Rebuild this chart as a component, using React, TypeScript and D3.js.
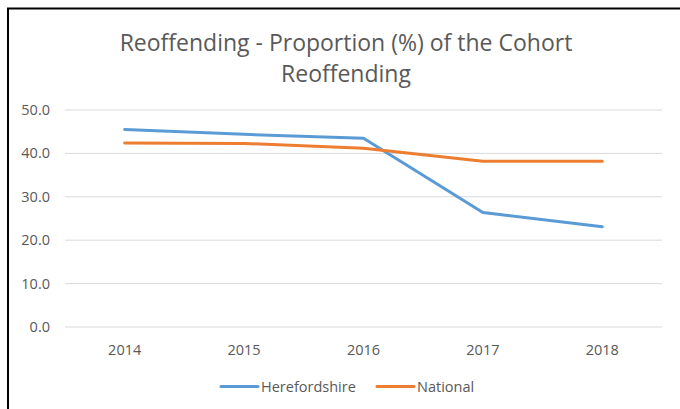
import React from "react";
import * as d3 from "d3";

const years = ["2014", "2015", "2016", "2017", "2018"];
const herefordshire = [45.5, 44.4, 43.5, 26.4, 23.1];
const national = [42.4, 42.3, 41.2, 38.2, 38.2];
const yTicks = [0, 10, 20, 30, 40, 50];
const titleLines = ["Reoffending - Proportion (%) of the Cohort", "Reoffending"];

const W = 680;
const H = 409;
const FONT = "'Open Sans', 'Noto Sans', sans-serif";
const TEXT = "#595959";

export default function App() {
  const x = d3.scaleBand<string>().domain(years).range([65, 662]);
  const y = d3.scaleLinear().domain([0, 50]).range([327, 110]);
  const line = d3
    .line<number>()
    .x((_, i) => (x(years[i]) as number) + x.bandwidth() / 2)
    .y((d) => y(d));

  const series = [
    { name: "Herefordshire", values: herefordshire, color: "#5B9BD5" },
    { name: "National", values: national, color: "#ED7D31" },
  ];

  return (
    <svg
      width={W}
      height={H}
      style={{ position: "absolute", left: 0, top: 0, background: "#fff" }}
      fontFamily={FONT}
    >
      <rect x={0} y={0} width={W} height={H} fill="#fff" />
      <line x1={7} y1={8.5} x2={W} y2={8.5} stroke="#000" strokeWidth={2} />
      <line x1={8} y1={8} x2={8} y2={H} stroke="#000" strokeWidth={2} />
      {titleLines.map((t, i) => (
        <text
          key={i}
          x={346}
          y={51 + i * 30.5}
          textAnchor="middle"
          fontSize={23}
          fill={TEXT}
        >
          {t}
        </text>
      ))}
      {yTicks.map((t) => (
        <g key={t}>
          <line x1={65} x2={662} y1={y(t)} y2={y(t)} stroke="#D9D9D9" strokeWidth={1} />
          <text x={50} y={y(t)} dy="0.35em" textAnchor="end" fontSize={14.5} fill={TEXT}>
            {t.toFixed(1)}
          </text>
        </g>
      ))}
      {years.map((yr) => (
        <text
          key={yr}
          x={(x(yr) as number) + x.bandwidth() / 2}
          y={355}
          textAnchor="middle"
          fontSize={14.5}
          fill={TEXT}
        >
          {yr}
        </text>
      ))}
      {series.map((s) => (
        <path
          key={s.name}
          d={line(s.values) || ""}
          fill="none"
          stroke={s.color}
          strokeWidth={3}
          strokeLinecap="round"
          strokeLinejoin="round"
        />
      ))}
      {series.map((s, i) => {
        const lx = i === 0 ? 221 : 377;
        return (
          <g key={s.name}>
            <line x1={lx} x2={lx + 37} y1={386.5} y2={386.5} stroke={s.color} strokeWidth={3} strokeLinecap="round" />
            <text x={lx + 40} y={386.5} dy="0.35em" fontSize={14.5} fill={TEXT}>
              {s.name}
            </text>
          </g>
        );
      })}
    </svg>
  );
}
